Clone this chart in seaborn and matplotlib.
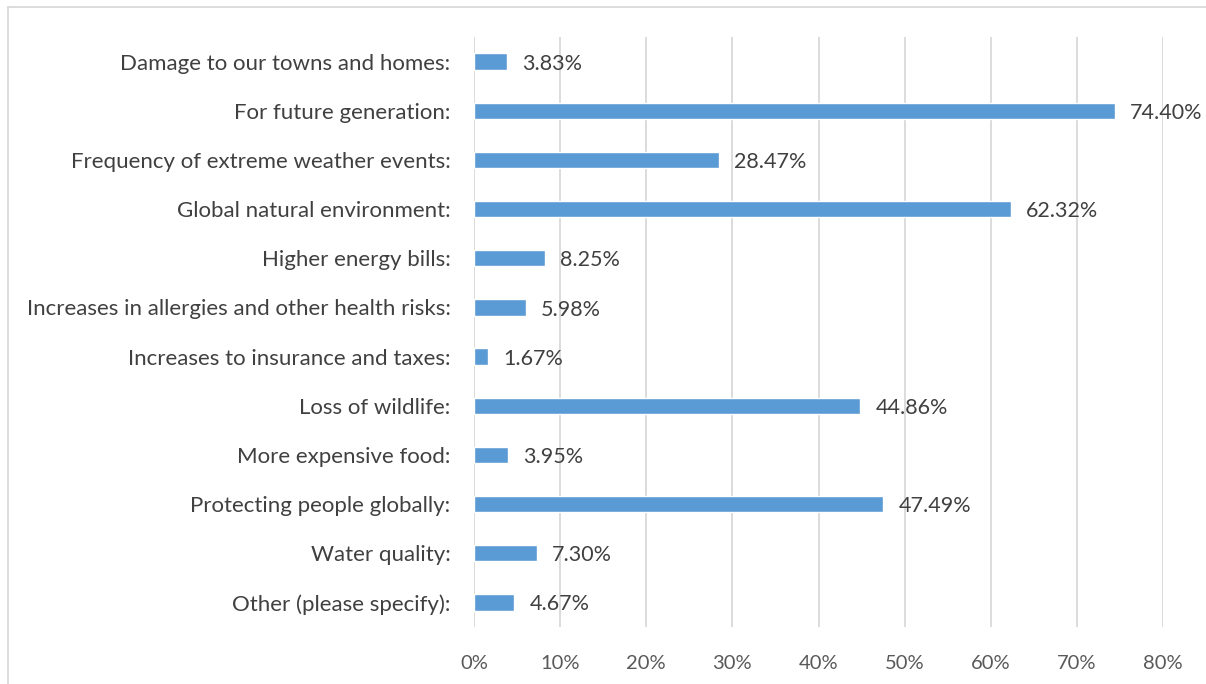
import matplotlib
matplotlib.use("Agg")
import matplotlib.pyplot as plt
import seaborn as sns
import pandas as pd
from matplotlib.lines import Line2D
from matplotlib.ticker import FuncFormatter

categories = [
    "Damage to our towns and homes:",
    "For future generation:",
    "Frequency of extreme weather events:",
    "Global natural environment:",
    "Higher energy bills:",
    "Increases in allergies and other health risks:",
    "Increases to insurance and taxes:",
    "Loss of wildlife:",
    "More expensive food:",
    "Protecting people globally:",
    "Water quality:",
    "Other (please specify):",
]
shares = [3.83, 74.40, 28.47, 62.32, 8.25, 5.98, 1.67, 44.86, 3.95, 47.49, 7.30, 4.67]
x_ticks = [0, 10, 20, 30, 40, 50, 60, 70, 80]

sns.set_theme(style="white")
plt.rcParams["font.family"] = ["Lato", "DejaVu Sans"]

W, H = 1206, 684
fig = plt.figure(figsize=(W / 100, H / 100), dpi=100)
ax = fig.add_axes([474 / W, 1 - 627 / H, (1163 - 474) / W, (627 - 37) / H])

df = pd.DataFrame({"category": categories, "share": shares})
sns.barplot(data=df, x="share", y="category", orient="h", color="#5B9BD5",
            saturation=1, width=0.33, ax=ax, zorder=3)

ax.set_xlim(0, 80)
ax.set_ylim(len(categories) - 0.5, -0.5)
ax.set_xticks(x_ticks)
ax.xaxis.set_major_formatter(FuncFormatter(lambda v, p: f"{v:.0f}%"))
ax.grid(axis="x", color="#D9D9D9", linewidth=1.3, zorder=0)
ax.set_axisbelow(True)
for s in ax.spines.values():
    s.set_visible(False)
ax.set_xlabel("")
ax.set_ylabel("")
ax.tick_params(axis="x", length=0, pad=20, labelsize=14.5, labelcolor="#595959")
ax.tick_params(axis="y", length=0, pad=17, labelsize=16, labelcolor="#404040")

for i, v in enumerate(shares):
    ax.annotate(f"{v:.2f}%", xy=(v, i), xytext=(11, -1.5), textcoords="offset points",
                ha="left", va="center", fontsize=15.5, color="#404040")

# outer chart frame
fig.add_artist(Line2D([8 / W, 1], [1 - 7 / H, 1 - 7 / H], color="#D9D9D9",
                      linewidth=1.3, transform=fig.transFigure))
fig.add_artist(Line2D([8 / W, 8 / W], [0, 1 - 7 / H], color="#D9D9D9",
                      linewidth=1.3, transform=fig.transFigure))

fig.savefig("out.png", dpi=100, facecolor="white")
